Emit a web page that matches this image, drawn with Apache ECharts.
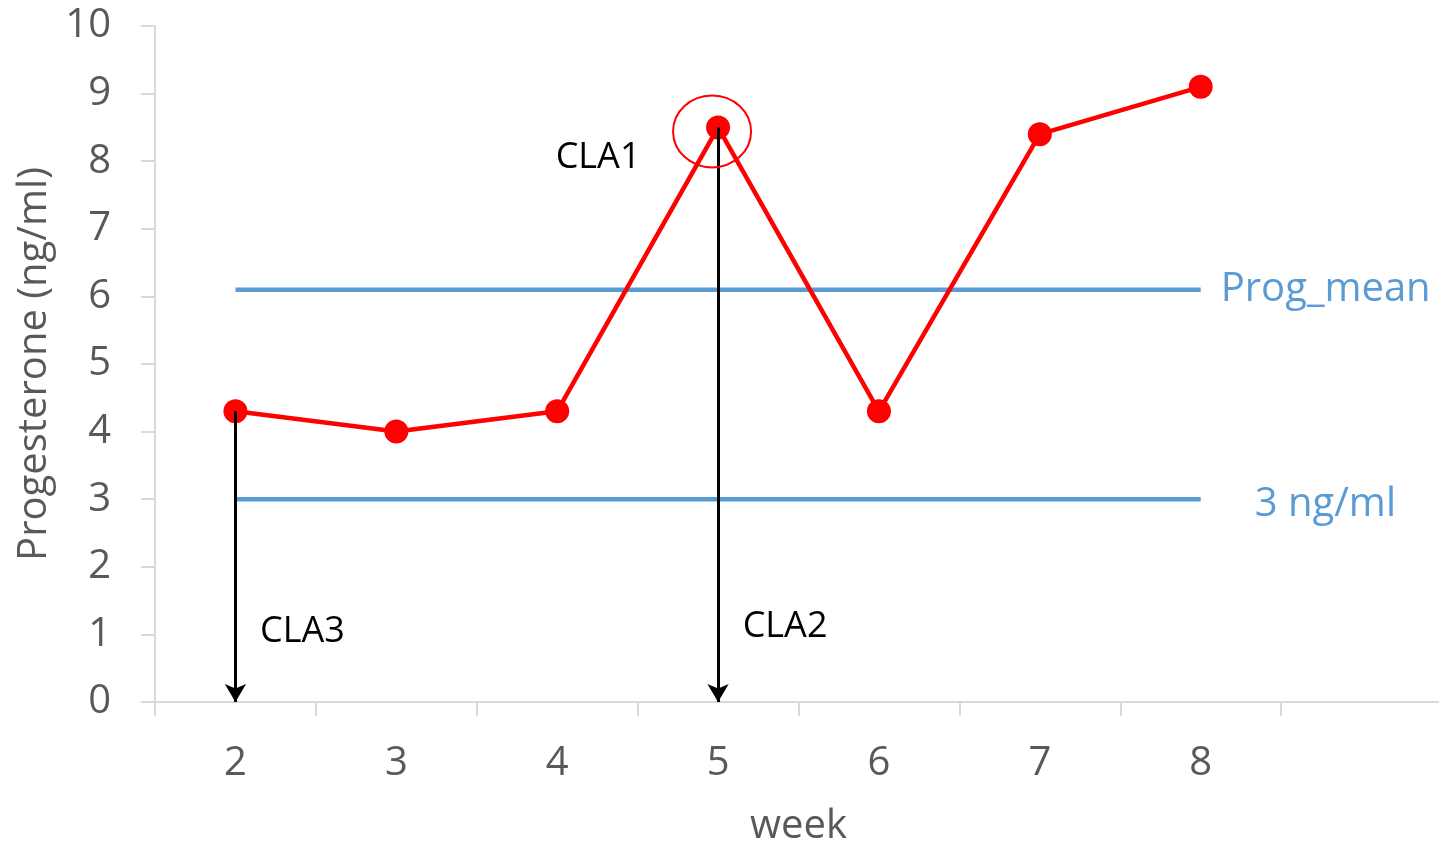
<!DOCTYPE html>
<html>
<head>
<meta charset="utf-8">
<script src="https://cdn.jsdelivr.net/npm/echarts@6/dist/echarts.min.js"></script>
<style>
  html, body { margin: 0; padding: 0; background: #ffffff; }
  #chart { width: 1439px; height: 848px; }
</style>
</head>
<body>
<div id="chart"></div>
<script>
// Weeks on the x axis (last band is left empty)
const weeks = ['2', '3', '4', '5', '6', '7', '8', ''];
// Progesterone concentration per week (ng/ml)
const progesterone = [4.3, 4.0, 4.3, 8.5, 4.3, 8.4, 9.1];
// Mean progesterone reference level
const progMean = [6.1, 6.1, 6.1, 6.1, 6.1, 6.1, 6.1];
// 3 ng/ml threshold
const threshold = [3, 3, 3, 3, 3, 3, 3];
// Vertical arrow annotations: [week, value from which the arrow drops]
const arrows = [['2', 4.3], ['5', 8.5]];

const FONT = '"Open Sans", "Liberation Sans", sans-serif';
const GREY = '#595959';
const BLUE = '#5b9bd5';
const FS = 40;

const chart = echarts.init(document.getElementById('chart'));

chart.setOption({
  animation: false,
  backgroundColor: '#ffffff',
  grid: {
    left: 155, top: 26, width: 1287, height: 676,
    containLabel: false, outerBoundsMode: 'none'
  },
  xAxis: {
    type: 'category',
    data: weeks,
    boundaryGap: true,
    name: 'week',
    nameLocation: 'middle',
    nameGap: 105,
    nameTextStyle: { fontFamily: FONT, fontSize: FS, color: GREY },
    axisLine: { lineStyle: { color: '#d9d9d9', width: 2 } },
    axisTick: { show: true, length: 14, lineStyle: { color: '#d9d9d9', width: 2 } },
    axisLabel: { fontFamily: FONT, fontSize: FS, color: GREY, margin: 42 },
    splitLine: { show: false }
  },
  yAxis: {
    type: 'value',
    min: 0,
    max: 10,
    interval: 1,
    name: 'Progesterone (ng/ml)',
    nameLocation: 'middle',
    nameGap: 100,
    nameTextStyle: { fontFamily: FONT, fontSize: FS, color: GREY },
    axisLine: { show: true, lineStyle: { color: '#d9d9d9', width: 2 } },
    axisTick: { show: true, length: 14, lineStyle: { color: '#d9d9d9', width: 2 } },
    axisLabel: { fontFamily: FONT, fontSize: FS, color: GREY, margin: 44 },
    splitLine: { show: false }
  },
  series: [
    {
      name: 'Prog_mean',
      type: 'line',
      data: progMean,
      symbol: 'none',
      lineStyle: { color: BLUE, width: 4.5 },
      endLabel: {
        show: true, formatter: '{a}', distance: 20,
        fontFamily: FONT, fontSize: FS, color: BLUE
      },
      z: 1
    },
    {
      name: '3 ng/ml',
      type: 'line',
      data: threshold,
      symbol: 'none',
      lineStyle: { color: BLUE, width: 4.5 },
      endLabel: {
        show: true, formatter: '{a}', distance: 54, offset: [0, 5],
        fontFamily: FONT, fontSize: FS, color: BLUE
      },
      z: 1
    },
    {
      name: 'Progesterone',
      type: 'line',
      data: progesterone,
      symbol: 'circle',
      symbolSize: 24,
      itemStyle: { color: '#ff0000' },
      lineStyle: { color: '#ff0000', width: 4.5 },
      z: 3,
      markLine: {
        silent: true,
        symbol: ['none', 'arrow'],
        symbolSize: [16, 18],
        label: { show: false },
        lineStyle: { color: '#000000', width: 3, type: 'solid' },
        data: arrows.map(a => [{ coord: [a[0], a[1]] }, { coord: [a[0], 0] }]),
        z: 4
      }
    }
  ]
});

// Annotations placed relative to the data they describe
const px = (w, v) => chart.convertToPixel({ gridIndex: 0 }, [w, v]);
const peak = px('5', 8.5);
const w2 = px('2', 0);
const w5 = px('5', 0);
const textStyle = { fontFamily: FONT, fontSize: 36, fill: '#000000' };

chart.setOption({
  graphic: [
    {
      type: 'ellipse',
      shape: { cx: peak[0] - 6, cy: peak[1] + 4, rx: 39, ry: 36 },
      style: { fill: 'none', stroke: '#ff0000', lineWidth: 2 },
      z: 10
    },
    {
      type: 'text',
      x: peak[0] - 120, y: peak[1] + 30,
      style: Object.assign({ text: 'CLA1', textAlign: 'center', textVerticalAlign: 'middle' }, textStyle),
      z: 10
    },
    {
      type: 'text',
      x: w5[0] + 67, y: w5[1] - 75,
      style: Object.assign({ text: 'CLA2', textAlign: 'center', textVerticalAlign: 'middle' }, textStyle),
      z: 10
    },
    {
      type: 'text',
      x: w2[0] + 67, y: w2[1] - 70,
      style: Object.assign({ text: 'CLA3', textAlign: 'center', textVerticalAlign: 'middle' }, textStyle),
      z: 10
    }
  ]
});
</script>
</body>
</html>
